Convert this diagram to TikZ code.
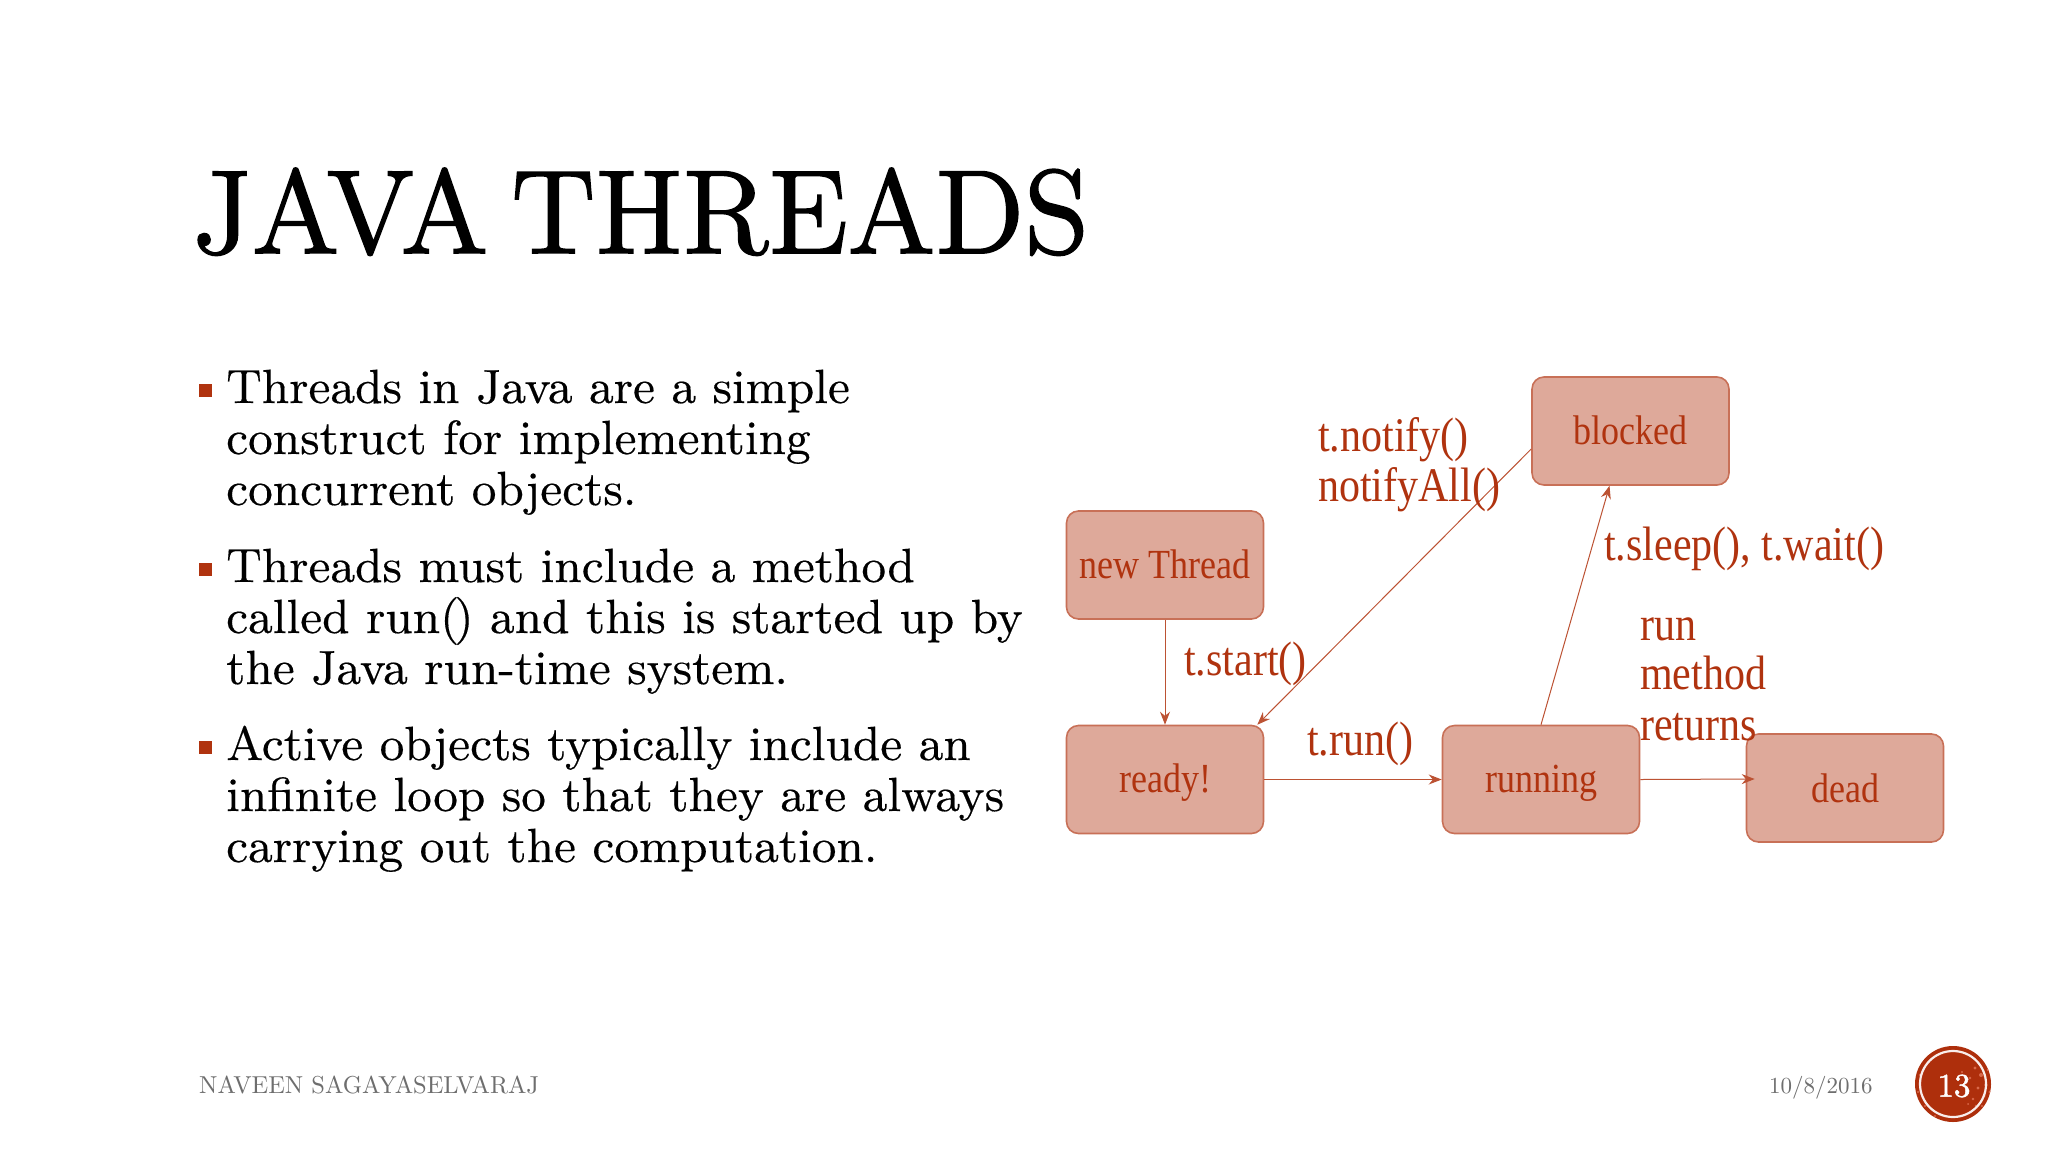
\documentclass[tikz,border=0pt]{standalone}
\usepackage{fontspec}
\usetikzlibrary{arrows.meta,calc}
\newfontfamily\labelfont{Liberation Serif}
\newfontfamily\titlefont[FakeBold=1.5,WordSpace=0.6]{lmroman12-regular.otf}
\newfontfamily\bodyfont[FakeBold=0.3]{lmroman9-regular.otf}
\newfontfamily\footfont{lmroman10-regular.otf}
\newfontfamily\numfont[FakeBold=1.5]{lmroman10-regular.otf}
\definecolor{boxfill}{HTML}{DEA99A}
\definecolor{rust}{HTML}{B0330F}
\definecolor{footgray}{HTML}{6E6E6E}
\definecolor{badge}{HTML}{AE2F0C}
\definecolor{speck}{HTML}{D9694A}
\newcommand{\tall}[1]{\scalebox{1}[1.15]{#1}}
\tikzset{
  statebox/.style={draw=rust!70!white,line width=1.6pt,fill=boxfill,rounded corners=12pt,
    minimum width=197pt,minimum height=108pt,inner sep=0pt,text=rust,
    font=\labelfont\fontsize{36}{36}\selectfont,text height=26pt,text depth=0pt},
  edge/.style={draw=rust!85!white,line width=1pt,-{Stealth[length=13pt,width=10pt]}},
  edgelabel/.style={anchor=base west,inner sep=0pt,text=rust,font=\labelfont\fontsize{42}{42}\selectfont},
  bodytext/.style={anchor=base west,inner sep=0pt,text=black,font=\bodyfont\fontsize{48}{48}\selectfont},
  bulletmark/.style={fill=rust,draw=none,minimum size=13pt,inner sep=0pt},
  foot/.style={anchor=base west,inner sep=0pt,text=footgray},
}
\begin{document}
\begin{tikzpicture}[x=1pt,y=-1pt]
\useasboundingbox[fill=white] (0,0) rectangle (2048,1152);

\node[anchor=base west,inner sep=0pt,font=\titlefont\fontsize{119}{119}\selectfont] (title) at (192,253) {JAVA THREADS};

\node[bulletmark] (b1) at (205,390) {};
\node[bodytext] (l1) at (226,403) {Threads in Java are a simple};
\node[bodytext] (l2) at (226,454) {construct for implementing};
\node[bodytext] (l3) at (226,505) {concurrent objects.};
\node[bulletmark] (b2) at (205,569) {};
\node[bodytext] (l4) at (226,582) {Threads must include a method};
\node[bodytext] (l5) at (226,633) {called run(\kern-5pt) and this is started up by};
\node[bodytext] (l6) at (226,684) {the Java run-time system.};
\node[bulletmark] (b3) at (205,747) {};
\node[bodytext] (l7) at (226,760) {Active objects typically include an};
\node[bodytext] (l8) at (226,811) {infinite loop so that they are always};
\node[bodytext] (l9) at (226,862) {carrying out the computation.};

\node[statebox] (blocked) at (1630.5,431) {\tall{blocked}};
\node[statebox] (new) at (1165,565) {\tall{new Thread}};
\node[statebox] (ready) at (1165,779.5) {\tall{ready!}};
\node[statebox] (running) at (1541,779.5) {\tall{running}};
\node[statebox,text height=29pt] (dead) at (1845,788) {\tall{dead}};

\draw[edge] (new.south) -- (ready.north);
\draw[edge] ([yshift=-18pt]blocked.west) -- ([xshift=-7pt]ready.north east);
\draw[edge] (running.north) -- ([xshift=-21pt]blocked.south);
\draw[edge] (ready.east) -- (running.west);
\draw[edge] (running.east) -- ([xshift=9pt,yshift=9pt]dead.west);

\node[edgelabel] (n1) at (1318,451) {\tall{t.notify()}};
\node[edgelabel] (n2) at (1318,501) {\tall{notifyAll()}};
\node[edgelabel] (n3) at (1184,675) {\tall{t.start()}};
\node[edgelabel] (n4) at (1307,755) {\tall{t.run()}};
\node[edgelabel] (n5) at (1604,560) {\tall{t.sleep(), t.wait()}};
\node[edgelabel] (n6) at (1640,640) {\tall{run}};
\node[edgelabel] (n7) at (1640,689) {\tall{method}};
\node[edgelabel] (n8) at (1640,740) {\tall{returns}};

\node[foot,font=\footfont\fontsize{24.5}{24.5}\selectfont] (author) at (199,1093) {NAVEEN SAGAYASELVARAJ};
\node[foot,font=\footfont\fontsize{23}{23}\selectfont] (date) at (1769,1093) {10/8/2016};

\fill[badge] (1953,1084) circle[radius=38];
\begin{scope}
\clip (1953,1084) circle[radius=38];
\foreach \px/\py/\pr in {1975/1068/1.6,1981/1075/2,1970/1078/1.4,1986/1085/1.8,1978/1088/1.6,1966/1090/1.2,1984/1096/1.6,1973/1099/1.3,1988/1070/1.4,1962/1072/1.1,1976/1106/1.3,1968/1104/1,1982/1106/1.1,1990/1092/1.6,1920/1075/1.3,1918/1092/1.2,1925/1106/1.2,1935/1116/1.1,1975/1059/1.2}
  \fill[speck] (\px,\py) circle[radius=\pr];
\end{scope}
\draw[white!92!badge,line width=2.2pt] (1953,1084) circle[radius=33];
\node[inner sep=0pt,text=white,font=\numfont\fontsize{33}{33}\selectfont] (page) at (1954,1086) {13};
\end{tikzpicture}
\end{document}
